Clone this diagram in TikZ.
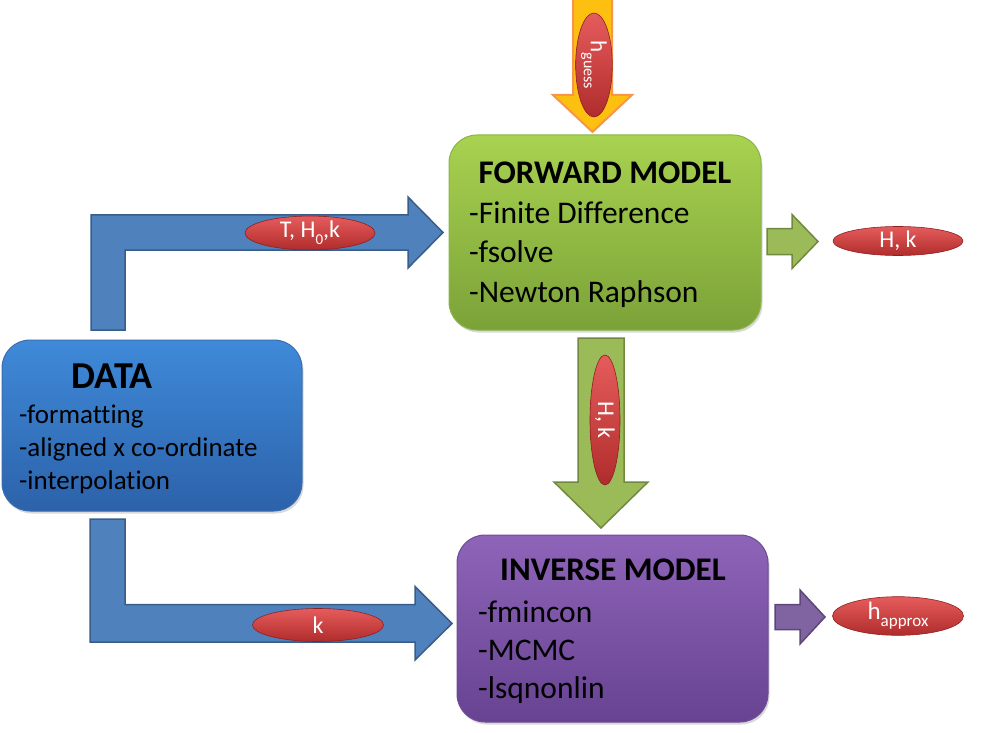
\documentclass[tikz,border=0pt]{standalone}
\usepackage{fontspec}
\setmainfont{Carlito}[Ligatures=CommonOff]
\usetikzlibrary{calc,shapes.geometric,shadows}

\definecolor{datatop}{HTML}{3F8AD9}
\definecolor{databot}{HTML}{2C62AA}
\definecolor{dataline}{HTML}{3A6DB0}
\definecolor{fwdtop}{HTML}{A8D250}
\definecolor{fwdbot}{HTML}{7BA238}
\definecolor{fwdline}{HTML}{8AB545}
\definecolor{invtop}{HTML}{8E64B8}
\definecolor{invbot}{HTML}{684392}
\definecolor{invline}{HTML}{6E4C96}
\definecolor{pipeblue}{HTML}{4F81BD}
\definecolor{pipeblueline}{HTML}{385D8A}
\definecolor{pipegreen}{HTML}{9BBB59}
\definecolor{pipegreenline}{HTML}{71893F}
\definecolor{pipepurple}{HTML}{8064A2}
\definecolor{pipepurpleline}{HTML}{5C4776}
\definecolor{pipeorange}{HTML}{FDBF10}
\definecolor{pipeorangeline}{HTML}{F7964A}
\definecolor{tagtop}{HTML}{E65C5C}
\definecolor{tagbot}{HTML}{B02C2C}
\definecolor{tagline}{HTML}{8E2020}

\newcommand\sub[2]{\raisebox{-0.3em}{\fontsize{#1}{#1}\selectfont #2}}

\tikzset{
  box/.style={draw, rounded corners=28pt, line width=1pt,
    drop shadow={shadow xshift=1.5pt, shadow yshift=-2.5pt, opacity=0.3}},
  title/.style={anchor=base, inner sep=0pt, font=\fontsize{33}{33}\selectfont\bfseries},
  item/.style={anchor=base west, inner sep=0pt, font=\fontsize{31.5}{31.5}\selectfont},
  tag/.style={ellipse, draw=tagline, line width=0.6pt, top color=tagtop,
    bottom color=tagbot, text=white, inner sep=0pt,
    font=\fontsize{24}{24}\selectfont},
  bluepipe/.style={draw=pipeblueline, fill=pipeblue, line width=1.5pt},
  greenpipe/.style={draw=pipegreenline, fill=pipegreen, line width=1.5pt},
  purplepipe/.style={draw=pipepurpleline, fill=pipepurple, line width=1.5pt},
  orangepipe/.style={draw=pipeorangeline, fill=pipeorange, line width=2pt}
}

\begin{document}
\begin{tikzpicture}[x=1pt, y=-1pt]
  \useasboundingbox (0,0) rectangle (986,733);

  % boxes
  \node[box, draw=dataline, top color=datatop, bottom color=databot,
    minimum width=300pt, minimum height=171pt] (data) at (152,425.5) {};
  \node[box, draw=fwdline, top color=fwdtop, bottom color=fwdbot,
    minimum width=312pt, minimum height=195pt] (fwd) at (605,232.5) {};
  \node[box, draw=invline, top color=invtop, bottom color=invbot,
    minimum width=311pt, minimum height=187pt] (inv) at (612.5,628.5) {};

  \node[title, font=\fontsize{38}{38}\selectfont\bfseries] (datatitle) at (112,388) {DATA};
  \foreach \txt [count=\i] in {-formatting, -aligned x co-ordinate, -interpolation}
    \node[item, font=\fontsize{27}{27}\selectfont] (data\i) at (19, 390+33*\i) {\txt};

  \node[title] (fwdtitle) at (605,184) {FORWARD MODEL};
  \foreach \txt [count=\i] in {-Finite Difference, -fsolve, -Newton Raphson}
    \node[item] (fwd\i) at (469, 183.5+39.5*\i) {\txt};

  \node[title] (invtitle) at (613,580) {INVERSE MODEL};
  \foreach \txt [count=\i] in {-fmincon, -MCMC, -lsqnonlin}
    \node[item] (inv\i) at (478, 584+38*\i) {\txt};

  % arrow ends
  \coordinate (dataup) at (108,330);
  \coordinate (fwdin) at (443,232.5);
  \coordinate (datadown) at (107.5,519);
  \coordinate (invin) at (452,623.5);
  \coordinate (guesssrc) at (592.5,-5);
  \coordinate (guesstip) at (592.5,132);
  \coordinate (fwdbase) at (601,338);
  \coordinate (invtip) at (601,528);
  \coordinate (fwdout) at (767,241.5);
  \coordinate (fwdend) at (818,241.5);
  \coordinate (invout) at (775,617);
  \coordinate (invend) at (825,617);

  % bent arrows
  \draw[bluepipe] ($(dataup)+(-17,0)$) |- ($(fwdin)+(-35,-17.5)$) -- ++(0,-18)
    -- (fwdin) -- ++(-35,35.5) -- ++(0,-18) -| ($(dataup)+(17,0)$) -- cycle;
  \draw[bluepipe] ($(datadown)+(-17.5,0)$) |- ($(invin)+(-37,18.5)$) -- ++(0,18)
    -- (invin) -- ++(-37,-37) -- ++(0,18) -| ($(datadown)+(17.5,0)$) -- cycle;

  % straight arrows
  \foreach \from/\to/\sty/\sw/\hw/\hl in {
      guesssrc/guesstip/orangepipe/19.5/39.5/37,
      fwdbase/invtip/greenpipe/23/47/46,
      fwdout/fwdend/greenpipe/13/27/26,
      invout/invend/purplepipe/12.5/27/25} {
    \coordinate (neck) at ($(\to)!\hl pt!(\from)$);
    \draw[\sty] ($(\from)!\sw pt!90:(\to)$) -- ($(neck)!\sw pt!90:(\to)$)
      -- ($(neck)!\hw pt!90:(\to)$) -- (\to) -- ($(neck)!\hw pt!-90:(\to)$)
      -- ($(neck)!\sw pt!-90:(\to)$) -- ($(\from)!\sw pt!-90:(\to)$) -- cycle;
  }

  % tags
  \foreach \name/\x/\y/\rot/\lw/\lh/\txt in {
      tagin/310/233/0/130/32/{T, H\sub{15}{0},k},
      tagk/318/625/0/131/33/{k},
      tagguess/594/65/-90/104/35/{{\fontsize{23}{23}\selectfont h}\sub{16}{guess}},
      tagdown/605/420/-90/130/30/{H, k},
      tagout/898/241/0/130/29/{H, k},
      tagapprox/898/616/0/131/33/{{\fontsize{25}{25}\selectfont h}\sub{17}{approx}}}
    \node[tag, rotate=\rot, minimum width=\lw pt, minimum height=\lh pt] (\name) at (\x,\y) {\txt};
\end{tikzpicture}
\end{document}
